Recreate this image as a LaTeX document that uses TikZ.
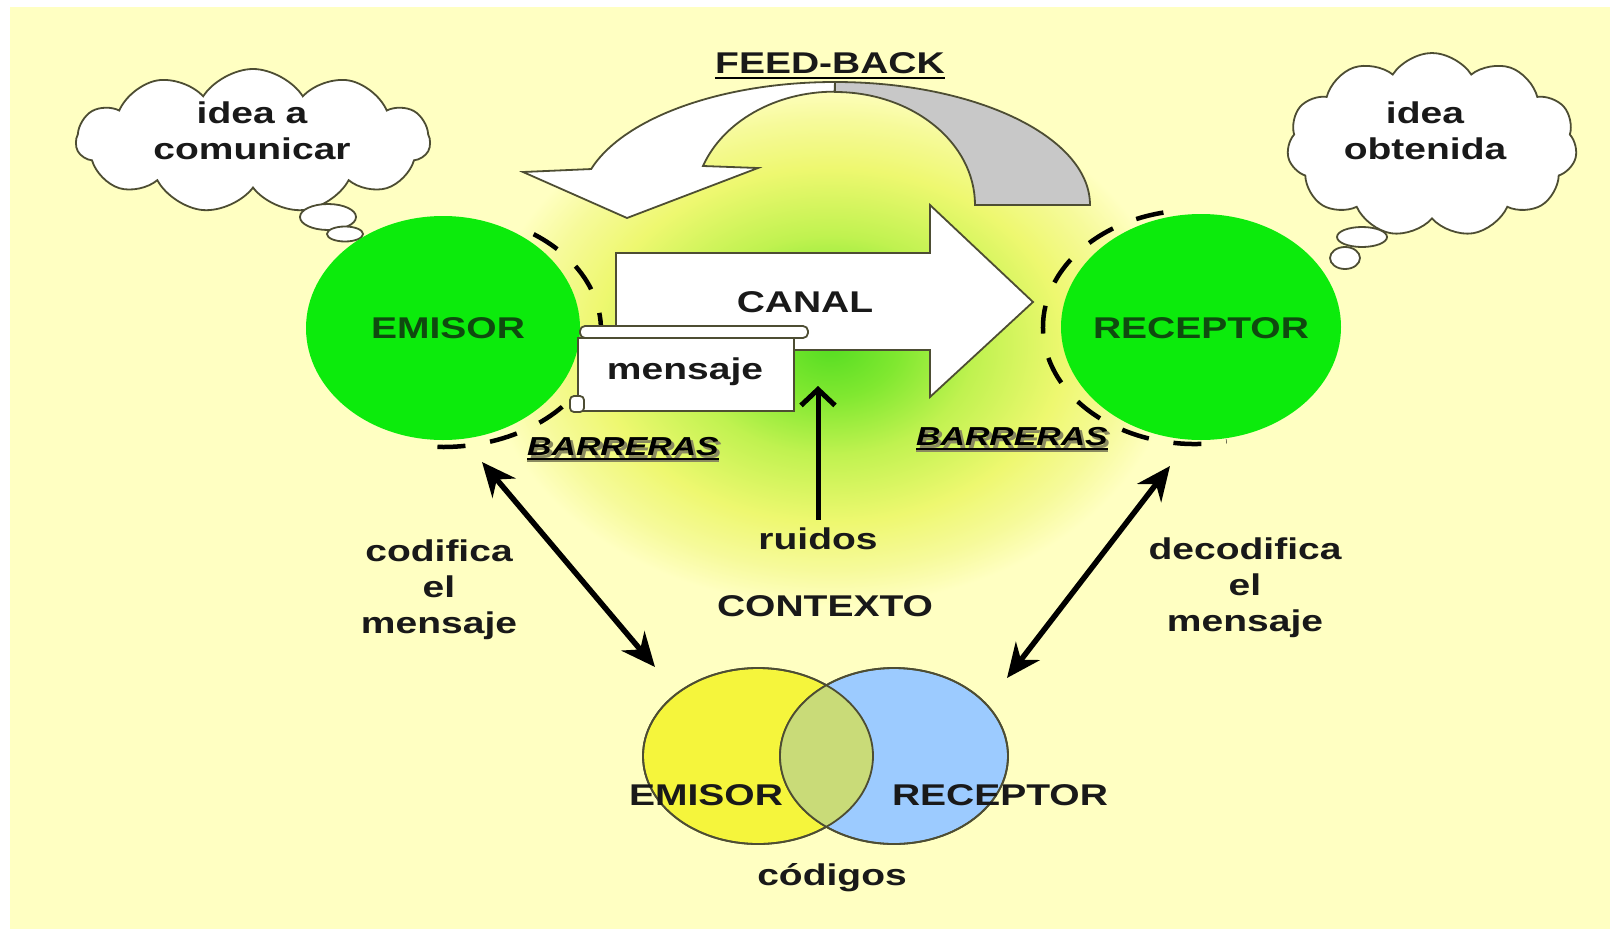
\documentclass[tikz,border=0pt]{standalone}
\usepackage{fontspec}
\newfontfamily\lab{Liberation Sans}[FakeStretch=1.3]
\usetikzlibrary{shapes.geometric,shapes.symbols,arrows.meta}
\definecolor{bg}{HTML}{FFFFC2}
\definecolor{ggreen}{HTML}{0CEB0C}
\definecolor{edge}{HTML}{4D4D33}
\definecolor{grayarc}{HTML}{C8C8C8}
\definecolor{vyel}{HTML}{F5F53C}
\definecolor{vblue}{HTML}{9CCBFF}
\definecolor{vmix}{HTML}{C9DB78}
\definecolor{darkg}{HTML}{0F4A0F}
\definecolor{glowa}{HTML}{55DD22}
\definecolor{glowb}{HTML}{80E830}
\definecolor{glowc}{HTML}{C0F250}
\definecolor{glowd}{HTML}{EEF870}
\definecolor{glowe}{HTML}{F6FA9A}
\definecolor{shadowc}{HTML}{8A8A60}
\pgfdeclareradialshading{glow}{\pgfpoint{0bp}{0bp}}{color(0bp)=(glowa); color(10bp)=(glowb); color(21bp)=(glowc); color(34bp)=(glowd); color(43bp)=(glowe); color(50bp)=(bg); color(60bp)=(bg)}
\begin{document}
\begin{tikzpicture}[x=1pt,y=-1pt,
  lbl/.style={font=\lab\bfseries\fontsize{30}{36}\selectfont, text=black!90, inner sep=0pt, align=center},
  big/.style={lbl, text=darkg},
  barr/.style={font=\lab\bfseries\itshape\fontsize{26}{30}\selectfont, inner sep=0pt},
  cloudbox/.style={cloud, cloud puffs=11, cloud puff arc=115, draw=edge, line width=1.8pt, fill=white, inner sep=0pt},
  bubble/.style={ellipse, draw=edge, line width=1.8pt, fill=white, inner sep=0pt},
  greenell/.style={ellipse, fill=ggreen, inner sep=0pt},
  barrier/.style={line width=4.5pt, black, dash pattern=on 28pt off 25pt},
  shapeedge/.style={draw=edge, line width=1.8pt, line join=miter},
  dbl/.style={line width=5.5pt, black, {Stealth[length=34pt,width=30pt]}-{Stealth[length=34pt,width=30pt]}},
  venn/.style={ellipse, draw=edge, line width=1.8pt, inner sep=0pt}
]
\useasboundingbox (0,0) rectangle (1610,929);
\fill[white] (0,0) rectangle (1610,929);
\fill[bg] (10,7) rectangle (1610,929);
% central glow
\begin{scope}
  \clip (10,7) rectangle (1610,929);
  \pgftransformshift{\pgfpoint{830pt}{-345pt}}
  \pgftransformxscale{6.9}
  \pgftransformyscale{5.2}
  \pgflowlevelsynccm
  \pgfuseshading{glow}
\end{scope}

% thought clouds
\node[cloudbox, minimum width=354pt, minimum height=144pt] (cloudL) at (253,141) {};
\node[bubble, minimum width=56pt, minimum height=26pt] (bubL1) at (328,217) {};
\node[bubble, minimum width=36pt, minimum height=15pt] (bubL2) at (345,234) {};
\node[lbl] (ideaL) at (252,131) {idea a\\comunicar};
\node[cloudbox, minimum width=290pt, minimum height=184pt] (cloudR) at (1432,145) {};
\node[bubble, minimum width=50pt, minimum height=20pt] (bubR1) at (1362,237) {};
\node[bubble, minimum width=30pt, minimum height=22pt] (bubR2) at (1345,258) {};
\node[lbl] (ideaR) at (1425,131) {idea\\obtenida};

% feed-back curved arrow
\path[shapeedge, fill=grayarc] (835,82) arc[start angle=270, end angle=360, x radius=255, y radius=123]
  -- (975,205) arc[start angle=0, end angle=-90, x radius=140, y radius=113] -- cycle;
\path[shapeedge, fill=white] (835,82) arc[start angle=270, end angle=197, x radius=255, y radius=123]
  -- (523,172) -- (627,218) -- (758,168) -- (703,166)
  arc[start angle=200, end angle=270, x radius=140, y radius=113] -- cycle;
\node[lbl] (fb) at (830,63) {FEED-BACK};
\draw[line width=2.5pt, black] ([yshift=-4pt]fb.south west) -- ([yshift=-4pt]fb.south east);

% barriers (dashed arcs)
\draw[barrier] (443,330) ++(-55:158 and 117) arc[start angle=-55, end angle=100, x radius=158, y radius=117];
\draw[barrier] (1195,327) ++(258:152 and 117) arc[start angle=258, end angle=78, x radius=152, y radius=117];

% emisor / receptor
\node[greenell, minimum width=274pt, minimum height=224pt] (emisor) at (443,328) {};
\node[big] at (448,328) {EMISOR};
\node[greenell, minimum width=280pt, minimum height=226pt] (receptor) at (1201,327) {};
\node[big] at (1201,328) {RECEPTOR};

% canal arrow
\path[shapeedge, fill=white] (616,253) -- (930,253) -- (930,205) -- (1033,302) -- (930,397) -- (930,350) -- (616,350) -- cycle;
\node[lbl] (canal) at (805,302) {CANAL};

% mensaje scroll
\draw[shapeedge, fill=white, rounded corners=5pt] (580,326) rectangle (808,338);
\draw[shapeedge, fill=white] (578,338) rectangle (794,411);
\draw[shapeedge, fill=white, rounded corners=4pt] (570,396) rectangle (584,412);
\node[lbl] (mensaje) at (685,372) {mensaje};

% BARRERAS labels
\node[barr, text=shadowc] at (626,450) {BARRERAS};
\node[barr] (barL) at (623,447) {BARRERAS};
\draw[line width=3pt, shadowc] ([yshift=-5pt]barL.base west) -- ([yshift=-5pt]barL.base east);
\draw[line width=1.8pt, black] ([yshift=-3pt]barL.base west) -- ([yshift=-3pt]barL.base east);
\node[barr, text=shadowc] at (1015,440) {BARRERAS};
\node[barr] (barR) at (1012,437) {BARRERAS};
\draw[line width=3pt, shadowc] ([yshift=-5pt]barR.base west) -- ([yshift=-5pt]barR.base east);
\draw[line width=1.8pt, black] ([yshift=-3pt]barR.base west) -- ([yshift=-3pt]barR.base east);

% ruidos
\node[lbl] (ruidos) at (818,539) {ruidos};
\coordinate (ruidostip) at (818,386);
\draw[line width=5pt, black, -{Straight Barb[length=16pt,width=34pt,line width=5pt]}] ([yshift=8pt]ruidos.north) -- (ruidostip);

\node[lbl] (contexto) at (825,606) {CONTEXTO};
\node[lbl] (codifica) at (439,590) {codifica\\el\\mensaje};
\node[lbl] (decodifica) at (1245,588) {decodifica\\el\\mensaje};

% venn diagram
\node[venn, fill=vyel, minimum width=230pt, minimum height=176pt] (vemisor) at (758,756) {};
\node[venn, fill=vblue, minimum width=228pt, minimum height=176pt] (vreceptor) at (894,756) {};
\begin{scope}
  \clip (758,756) ellipse[x radius=115, y radius=88];
  \fill[vmix] (894,756) ellipse[x radius=114, y radius=88];
\end{scope}
\draw[edge, line width=1.8pt] (758,756) ellipse[x radius=115, y radius=88];
\draw[edge, line width=1.8pt] (894,756) ellipse[x radius=114, y radius=88];
\node[lbl] (tE) at (706,795) {EMISOR};
\node[lbl] (tR) at (1000,795) {RECEPTOR};
\node[lbl] (codigos) at (832,878) {códigos};

% double arrows
\coordinate (a1) at (482,462);
\coordinate (a2) at (655,667);
\coordinate (b1) at (1170,466);
\coordinate (b2) at (1007,678);
\draw[dbl] (a1) -- (a2);
\draw[dbl] (b1) -- (b2);
\end{tikzpicture}
\end{document}
